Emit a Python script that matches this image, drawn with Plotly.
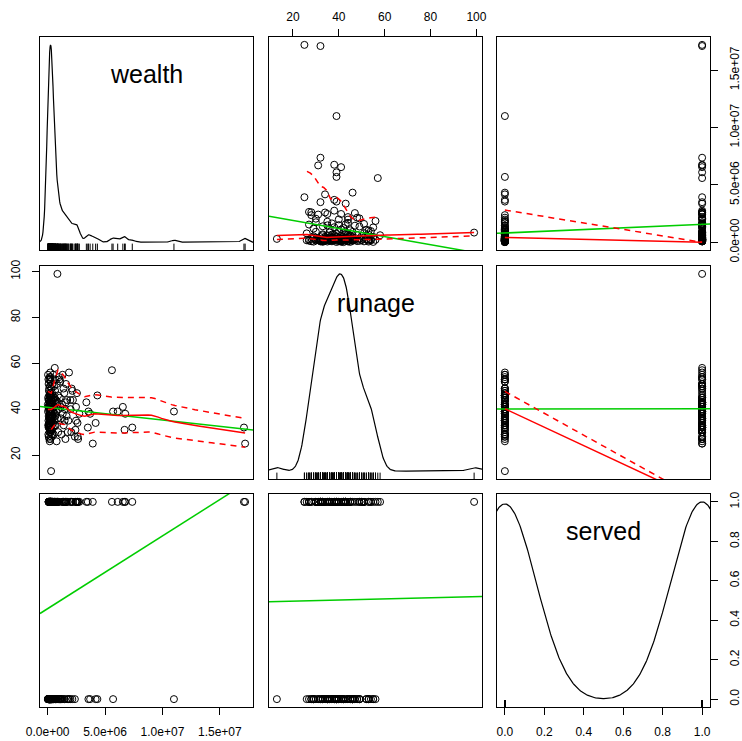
import numpy as np
import plotly.graph_objects as go

# ---------------- data ----------------
wealth = [
    17200000, 17100000, 11000000, 7370000, 6700000, 6760000, 6550000, 6100000, 5700000, 5600000,
    3930000, 4330000, 4180000, 3500000, 3700000, 3550000, 3370000, 300000, 850000,
    1860000, 2090000, 1980000, 2000000, 2470000, 2470000, 2760000, 2420000, 2620000, 2370000,
    2060000, 1800000, 2650000, 2550000, 2600000, 2200000, 2150000,
    1050000, 1100000, 1150000, 1200000, 1250000, 1300000, 1320000, 1400000, 1450000, 1500000,
    1550000, 1600000, 1650000, 1700000, 1750000, 1120000, 1380000, 1480000, 1580000, 1020000,
    620000, 650000, 700000, 720000, 750000, 780000, 800000, 830000, 860000, 900000,
    920000, 950000, 980000, 680000, 880000,
    180000, 250000, 95000, 320000, 140000, 410000, 220000, 60000, 275000, 530000,
    160000, 350000, 120000, 240000, 450000, 190000, 80000, 300000, 210000, 620000,
    130000, 265000, 380000, 45000, 170000, 230000, 490000, 150000, 310000, 105000,
    285000, 200000, 560000, 125000, 340000, 260000, 70000, 420000, 185000, 235000,
    115000, 395000, 245000, 155000, 640000, 205000, 330000, 90000, 270000, 470000,
    175000, 215000, 30000, 360000, 145000, 290000, 510000, 195000, 255000, 110000,
    440000, 225000, 165000, 305000, 55000, 370000, 280000, 135000, 580000, 240000,
    100000, 315000, 190000, 460000, 270000, 20000, 160000, 345000, 210000, 680000,
    250000, 120000, 400000, 295000, 175000, 75000, 230000, 500000, 140000, 325000,
    265000, 185000, 430000, 40000, 215000, 355000, 150000, 600000, 290000, 200000,
    110000, 385000, 245000, 170000, 480000, 65000, 310000, 225000, 130000, 550000,
    335000, 195000, 85000, 275000, 415000, 155000, 260000, 660000, 35000, 220000,
]
runage = [
    25, 32, 39, 32, 31, 38, 41, 39, 39, 57, 25, 46, 34, 32, 38, 39, 43, 13, 99,
    56, 49, 44, 40, 41, 35, 38, 31, 28, 28, 30, 35, 27, 47, 34, 44, 48,
    45, 52, 36, 29, 42, 55, 38, 33, 47, 40, 27, 51, 37, 44, 30, 41, 49, 35, 43, 53,
    58, 48, 33, 44, 39, 26, 51, 42, 36, 46, 30, 40, 54, 37, 43,
    26, 27, 28, 28, 27, 29, 30, 29, 30, 29, 30, 31, 32, 31, 32, 31, 32, 31, 32,
    33, 34, 33, 34, 33, 34, 33, 34, 33, 34, 33, 35, 36, 35, 36, 35, 36, 35, 36, 35, 32, 33,
    37, 38, 37, 38, 37, 38, 37, 38, 37, 38, 37, 39, 40, 39, 40, 39, 40, 39, 40, 39, 40,
    41, 42, 41, 42, 41, 42, 41, 42, 41, 42, 41, 42, 41, 42,
    43, 44, 43, 44, 43, 44, 43, 44, 43, 44, 43, 45, 46, 45, 46, 45, 46, 45, 46, 45, 46, 45, 46,
    47, 48, 47, 53, 54, 55, 53, 49, 50, 49, 50, 49, 50, 51, 52, 51, 53, 54, 53, 55, 56,
]
served = [
    1, 1, 0, 1, 1, 1, 1, 1, 0, 1, 1, 0, 0, 1, 0, 0, 1, 0, 1,
    0, 1, 0, 1, 1, 1, 1, 1, 1, 0, 1, 0, 1, 1, 1, 1, 0,
    0, 0, 0, 0, 1, 1, 0, 1, 0, 1, 1, 1, 1, 0, 1, 0, 1, 0, 1, 0,
    1, 0, 1, 0, 1, 0, 1, 0, 1, 0, 1, 0, 1, 0, 1,
    1, 0, 1, 0, 1, 0, 1, 0, 1, 0,
    0, 1, 0, 1, 0, 0, 1, 0, 1, 0,
    1, 0, 0, 0, 1, 0, 0, 1, 0, 1,
    0, 1, 1, 0, 0, 1, 0, 1, 0, 1,
    1, 0, 1, 0, 1, 0, 0, 1, 0, 1,
    0, 1, 0, 1, 0, 0, 1, 0, 0, 0,
    1, 0, 0, 1, 0, 1, 0, 1, 1, 0,
    0, 1, 0, 0, 1, 0, 1, 0, 1, 0,
    1, 0, 1, 1, 0, 0, 1, 0, 0, 1,
    0, 1, 0, 0, 0, 1, 0, 1, 1, 0,
    1, 0, 1, 1, 0, 0, 0, 1, 0, 1,
    0, 1, 1, 0, 1, 0, 0, 1, 0, 1,
]
assert len(wealth) == len(runage) == len(served)

var_names = ["wealth", "runage", "served"]
wealth_tickvals = [0, 5e6, 1e7, 1.5e7]
wealth_ticktext = ["0.0e+00", "5.0e+06", "1.0e+07", "1.5e+07"]
runage_tickvals = [20, 40, 60, 80, 100]
runage_ticktext = ["20", "40", "60", "80", "100"]
served_tickvals = [0, 0.2, 0.4, 0.6, 0.8, 1.0]
served_ticktext = ["0.0", "0.2", "0.4", "0.6", "0.8", "1.0"]

# ---------------- helpers ----------------
data = {"wealth": np.array(wealth, float), "runage": np.array(runage, float),
        "served": np.array(served, float)}
ticks = {"wealth": (wealth_tickvals, wealth_ticktext),
         "runage": (runage_tickvals, runage_ticktext),
         "served": (served_tickvals, served_ticktext)}
binary = {"wealth": False, "runage": False, "served": True}

rng = {}
for nm in var_names:
    v = data[nm]
    d = v.max() - v.min()
    rng[nm] = [v.min() - 0.04 * d, v.max() + 0.04 * d]


def density_r(v):
    n = len(v)
    iqr = np.percentile(v, 75) - np.percentile(v, 25)
    bw = 0.9 * min(np.std(v, ddof=1), iqr / 1.34) * n ** -0.2
    g = np.linspace(v.min() - 3 * bw, v.max() + 3 * bw, 512)
    dens = np.exp(-0.5 * ((g[:, None] - v[None, :]) / bw) ** 2).sum(1) / (n * bw * np.sqrt(2 * np.pi))
    return g, dens


def loess(x, y, xe, span=0.5, degree=1, iterations=4):
    x = np.asarray(x, float)
    y = np.asarray(y, float)
    n = len(x)
    q = max(int(np.floor(n * span)), 2)

    def fit(x0, rw):
        d = np.abs(x - x0)
        h = max(np.sort(d)[q - 1], 1e-12)
        u = d / h
        w = np.where(u < 1, (1 - u ** 3) ** 3, 0.0) * rw
        sw = w.sum()
        if sw <= 0:
            return np.nan
        my = (w * y).sum() / sw
        if degree == 0:
            return my
        mx = (w * x).sum() / sw
        sxx = (w * (x - mx) ** 2).sum()
        if sxx <= 1e-12 * max(1.0, mx * mx):
            return my
        b = (w * (x - mx) * (y - my)).sum() / sxx
        return my + b * (x0 - mx)

    rw = np.ones(n)
    res = None
    for it in range(iterations):
        fitted = np.array([fit(xi, rw) for xi in x])
        res = y - fitted
        if it == iterations - 1:
            break
        s = np.median(np.abs(res))
        if s <= 0:
            break
        uu = res / (6 * s)
        rw = np.where(np.abs(uu) < 1, (1 - uu ** 2) ** 2, 0.0)
    ye = np.array([fit(x0, rw) for x0 in xe])
    # like R's predict.loess: no extrapolation outside the fitted x range
    ye = np.where((xe >= x.min()) & (xe <= x.max()), ye, np.nan)
    return ye, res


def smooth_with_spread(x, y, xe):
    ye, res = loess(x, y, xe)
    pos = res > 0
    ppos, _ = loess(x[pos], res[pos] ** 2, xe, degree=0, iterations=1)
    pneg, _ = loess(x[~pos], res[~pos] ** 2, xe, degree=0, iterations=1)
    return ye, ye + np.sqrt(ppos), ye - np.sqrt(pneg)


def nan_to_none(a):
    return [None if not np.isfinite(t) else float(t) for t in a]


# ---------------- layout geometry (pixels) ----------------
W, H = 742, 741
col_px = [(40, 253), (269, 482), (497, 710)]
row_px = [(37, 250), (266, 479), (494, 707)]

GREEN = "#00CD00"
RED = "#FF0000"

fig = go.Figure()
layout = dict(width=W, height=H, margin=dict(l=0, r=0, t=0, b=0, autoexpand=False),
              paper_bgcolor="white", plot_bgcolor="white", showlegend=False,
              template="none",
              font=dict(family="Liberation Sans, Arial, Helvetica, sans-serif", size=12, color="black"))
annotations = []

for i, yn in enumerate(var_names):
    for j, xn in enumerate(var_names):
        k = i * 3 + j + 1
        xref = "x" if k == 1 else f"x{k}"
        yref = "y" if k == 1 else f"y{k}"
        xkey = "xaxis" if k == 1 else f"xaxis{k}"
        ykey = "yaxis" if k == 1 else f"yaxis{k}"
        x0p, x1p = col_px[j]
        y0p, y1p = row_px[i]
        xa = dict(domain=[x0p / W, x1p / W], anchor=yref, range=rng[xn], automargin=False,
                  showline=True, mirror=True, linecolor="black", linewidth=1,
                  showgrid=False, zeroline=False, ticks="", showticklabels=False)
        ya = dict(domain=[1 - y1p / H, 1 - y0p / H], anchor=xref, range=rng[yn], automargin=False,
                  showline=True, mirror=True, linecolor="black", linewidth=1,
                  showgrid=False, zeroline=False, ticks="", showticklabels=False)
        # axis ticks on the outer sides (R pairs style alternation)
        if i == 0 and j == 1:
            xa.update(side="top", ticks="outside", ticklen=7, tickcolor="black",
                      showticklabels=True, tickvals=ticks[xn][0], ticktext=ticks[xn][1],
                      ticklabelstandoff=3)
        if i == 2 and j in (0, 2):
            xa.update(side="bottom", ticks="outside", ticklen=7, tickcolor="black",
                      showticklabels=True, tickvals=ticks[xn][0], ticktext=ticks[xn][1],
                      ticklabelstandoff=7)
        if j == 2 and i in (0, 2):
            ya.update(side="right", ticks="outside", ticklen=7, tickcolor="black",
                      showticklabels=True, tickvals=ticks[yn][0], ticktext=ticks[yn][1],
                      tickangle=-90, ticklabelstandoff=7)
        if j == 0 and i == 1:
            ya.update(side="left", ticks="outside", ticklen=7, tickcolor="black",
                      showticklabels=True, tickvals=ticks[yn][0], ticktext=ticks[yn][1],
                      tickangle=-90, ticklabelstandoff=7)
        layout[xkey] = xa
        layout[ykey] = ya

        xv = data[xn]
        yv = data[yn]
        if i == j:
            g, dens = density_r(xv)
            vmin, vmax = xv.min(), xv.max()
            dy = vmin + (dens - dens.min()) / (dens.max() - dens.min()) * (vmax - vmin)
            fig.add_trace(go.Scatter(x=g, y=dy, mode="lines", xaxis=xref, yaxis=yref,
                                     line=dict(color="black", width=1.2), hoverinfo="skip"))
            r0 = rng[xn][0]
            rl = 0.03 * (rng[xn][1] - rng[xn][0])
            rx, ry = [], []
            for v in xv:
                rx += [v, v, None]
                ry += [r0, r0 + rl, None]
            fig.add_trace(go.Scatter(x=rx, y=ry, mode="lines", xaxis=xref, yaxis=yref,
                                     line=dict(color="black", width=1), hoverinfo="skip"))
            annotations.append(dict(text=xn, x=(x0p + x1p) / 2 / W, y=1 - (y0p + 37) / H,
                                    xref="paper", yref="paper", showarrow=False,
                                    xanchor="center", yanchor="middle",
                                    font=dict(size=25, color="black")))
            continue

        # points
        fig.add_trace(go.Scatter(x=xv, y=yv, mode="markers", xaxis=xref, yaxis=yref,
                                 marker=dict(symbol="circle-open", size=7, color="black",
                                             line=dict(width=1, color="black")),
                                 hoverinfo="skip"))
        # least-squares line (green), drawn across the panel
        b, a = np.polyfit(xv, yv, 1)
        lx = np.array(rng[xn])
        fig.add_trace(go.Scatter(x=lx, y=a + b * lx, mode="lines", xaxis=xref, yaxis=yref,
                                 line=dict(color=GREEN, width=1.5), hoverinfo="skip"))
        if binary[yn]:
            continue
        if binary[xn]:
            # loess on a two-valued predictor degenerates (R returns 0 at x=1):
            # the fit runs from the group-0 centre at x=0 down to 0 at x=1
            c0, res = loess(xv, yv, np.array([0.0]))
            pos = res > 0
            up, _ = loess(xv[pos], res[pos] ** 2, np.array([0.0]), degree=0, iterations=1)
            ex = np.array([0.0, 1.0])
            fig.add_trace(go.Scatter(x=ex, y=[c0[0], 0.0], mode="lines", xaxis=xref, yaxis=yref,
                                     line=dict(color=RED, width=1.5), hoverinfo="skip"))
            fig.add_trace(go.Scatter(x=ex, y=[c0[0] + np.sqrt(up[0]), 0.0], mode="lines",
                                     xaxis=xref, yaxis=yref,
                                     line=dict(color=RED, width=1.5, dash="6px,5px"), hoverinfo="skip"))
            continue
        xe = np.linspace(xv.min(), xv.max(), 60)
        ye, yu, yl = smooth_with_spread(xv, yv, xe)
        fig.add_trace(go.Scatter(x=xe, y=nan_to_none(ye), mode="lines", xaxis=xref, yaxis=yref,
                                 line=dict(color=RED, width=1.5), hoverinfo="skip"))
        for yy in (yu, yl):
            fig.add_trace(go.Scatter(x=xe, y=nan_to_none(yy), mode="lines", xaxis=xref, yaxis=yref,
                                     line=dict(color=RED, width=1.5, dash="6px,5px"), hoverinfo="skip"))

layout["annotations"] = annotations
fig.update_layout(**layout)
fig.write_html("out.html")
